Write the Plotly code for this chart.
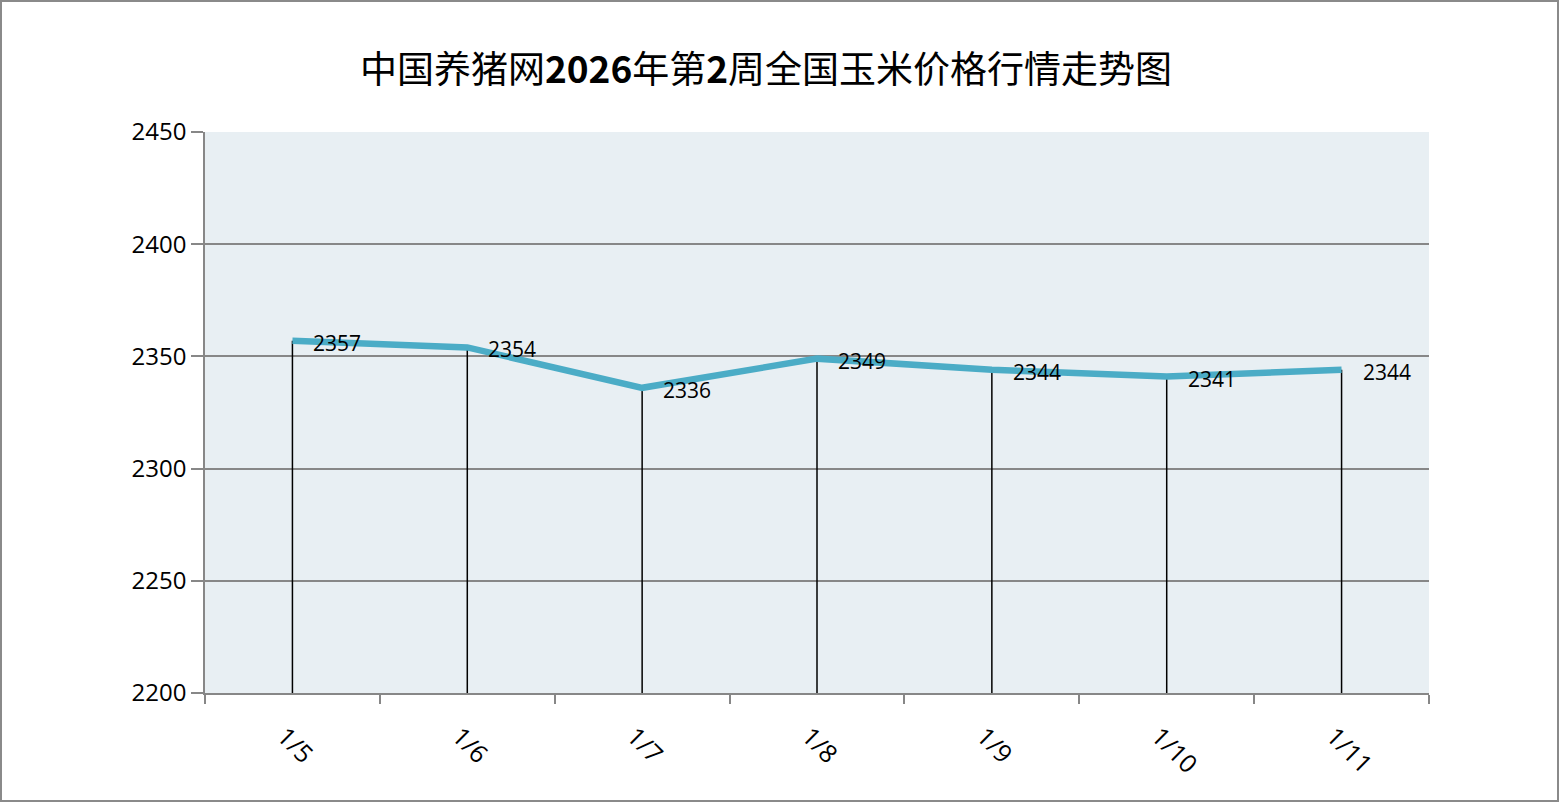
import plotly.graph_objects as go

dates = ["1/5", "1/6", "1/7", "1/8", "1/9", "1/10", "1/11"]
prices = [2357, 2354, 2336, 2349, 2344, 2341, 2344]
y_min, y_max, y_step = 2200, 2450, 50
title = "中国养猪网<b>2026</b>年第<b>2</b>周全国玉米价格行情走势图"

W, H = 1560, 803
L, R, T, B = 205, 131, 132, 110
pw, ph = W - L - R, H - T - B
FONT = "Open Sans, Noto Sans"

fig = go.Figure()
fig.add_trace(go.Scatter(
    x=dates, y=prices, mode="lines",
    line=dict(color="#4BACC6", width=6.5, shape="linear"),
    error_y=dict(type="data", symmetric=False, array=[0] * len(prices),
                 arrayminus=[p - y_min for p in prices],
                 color="black", thickness=1.5, width=0),
    hoverinfo="x+y", showlegend=False,
))

for d, p in zip(dates, prices):
    fig.add_annotation(x=d, y=p, text=str(p), showarrow=False,
                       xanchor="left", yanchor="middle", xshift=19, yshift=-2,
                       font=dict(size=21, color="black", family=FONT))

# outer border
fig.add_shape(type="rect", xref="paper", yref="paper",
              x0=-(L - 1) / pw, x1=(pw + R - 2) / pw,
              y0=-(B - 2) / ph, y1=(ph + T - 1) / ph,
              line=dict(color="#8A8A8A", width=2), layer="below")

fig.update_layout(
    width=W, height=H,
    margin=dict(l=L, r=R, t=T, b=B),
    paper_bgcolor="white", plot_bgcolor="#E8EFF3",
    title=dict(text=title, x=766 / W, xanchor="center", y=1 - 70 / H, yanchor="middle",
               font=dict(size=37, color="black", family="Noto Sans CJK SC")),
    font=dict(family=FONT, color="black"),
    xaxis=dict(type="category", range=[-0.5, len(dates) - 0.5],
               tickson="boundaries", ticks="outside", ticklen=9, tickwidth=1.5,
               tickcolor="#878787", showline=True, linecolor="#878787", linewidth=1.5,
               showgrid=False, tickangle=45, tickfont=dict(size=25), zeroline=False,
               ticklabelstandoff=17, ticklabelshift=-8),
    yaxis=dict(range=[y_min, y_max], dtick=y_step, tick0=y_min,
               ticks="outside", ticklen=12, tickwidth=1.5, tickcolor="#878787",
               showline=True, linecolor="#878787", linewidth=1.5,
               showgrid=True, gridcolor="#878787", gridwidth=1.5,
               tickfont=dict(size=24), zeroline=False),
)

fig.write_html("out.html", config={"displayModeBar": False},
               post_script="document.body.style.margin='0';document.body.style.overflow='hidden';")
